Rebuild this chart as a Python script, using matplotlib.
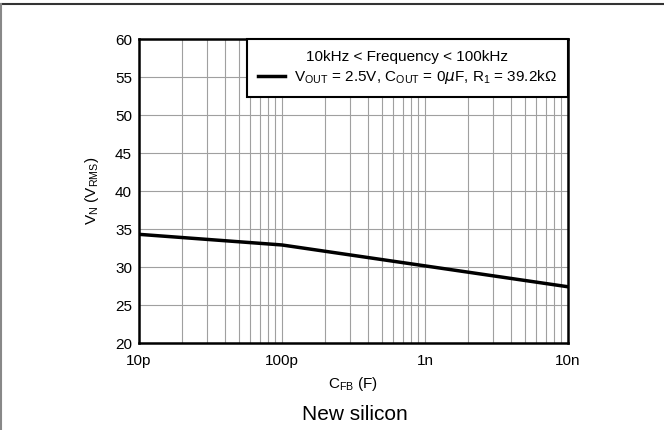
import matplotlib
matplotlib.use("Agg")
import matplotlib.pyplot as plt
from matplotlib.lines import Line2D
from matplotlib.ticker import FixedLocator, LogLocator, NullFormatter

plt.rcParams['font.family'] = ['Liberation Sans', 'DejaVu Sans']
plt.rcParams['mathtext.fontset'] = 'custom'
plt.rcParams['mathtext.rm'] = 'Liberation Sans'

# data
cfb = [10e-12, 100e-12, 1e-9, 10e-9]
vn = [34.3, 32.9, 30.15, 27.4]
xticks = [10e-12, 100e-12, 1e-9, 10e-9]
xticklabels = ["10p", "100p", "1n", "10n"]
yticks = [20, 25, 30, 35, 40, 45, 50, 55, 60]

fig = plt.figure(figsize=(6.64, 4.30), dpi=100)
ax = fig.add_axes([0.2093, 0.2023, 0.6461, 0.707])

ax.plot(cfb, vn, color="black", lw=2.5,
        label=r"V$_{\mathregular{OUT}}$ = 2.5V, C$_{\mathregular{OUT}}$ = 0$\mu$F, R$_1$ = 39.2k$\Omega$")

ax.set_xscale("log")
ax.set_xlim(10e-12, 10e-9)
ax.set_ylim(20, 60)
ax.xaxis.set_major_locator(FixedLocator(xticks))
ax.set_xticklabels(xticklabels)
ax.xaxis.set_minor_locator(LogLocator(base=10, subs=range(2, 10)))
ax.xaxis.set_minor_formatter(NullFormatter())
ax.set_yticks(yticks)
ax.grid(True, which="major", color="#a0a0a0", lw=0.8)
ax.grid(True, which="minor", axis="x", color="#a0a0a0", lw=0.8)
ax.tick_params(which="both", length=0, labelsize=11)
ax.tick_params(axis="x", pad=8)
ax.tick_params(axis="y", pad=5)
for s in ax.spines.values():
    s.set_linewidth(1.8)

ax.set_xlabel(r"C$_{\mathregular{FB}}$ (F)", fontsize=11, labelpad=5)
ax.set_ylabel(r"V$_{\mathregular{N}}$ (V$_{\mathregular{RMS}}$)", fontsize=11, labelpad=10)

leg = ax.legend(loc="upper right", title="10kHz < Frequency < 100kHz",
                fontsize=11, title_fontsize=11, frameon=True, fancybox=False,
                borderaxespad=0, handlelength=1.8, handletextpad=0.6,
                borderpad=0.7, labelspacing=0.3)
leg.get_frame().set_edgecolor("black")
leg.get_frame().set_linewidth(1.5)
leg.get_frame().set_alpha(1)

fig.text(0.534, 0.035, "New silicon", ha="center", va="center", fontsize=15)

# page border lines (top and left)
fig.add_artist(Line2D([0, 1], [0.991, 0.991], color="#333333", lw=1.5))
fig.add_artist(Line2D([0.0008, 0.0008], [0, 0.991], color="#888888", lw=1.5))

fig.savefig("out.png", dpi=100)
